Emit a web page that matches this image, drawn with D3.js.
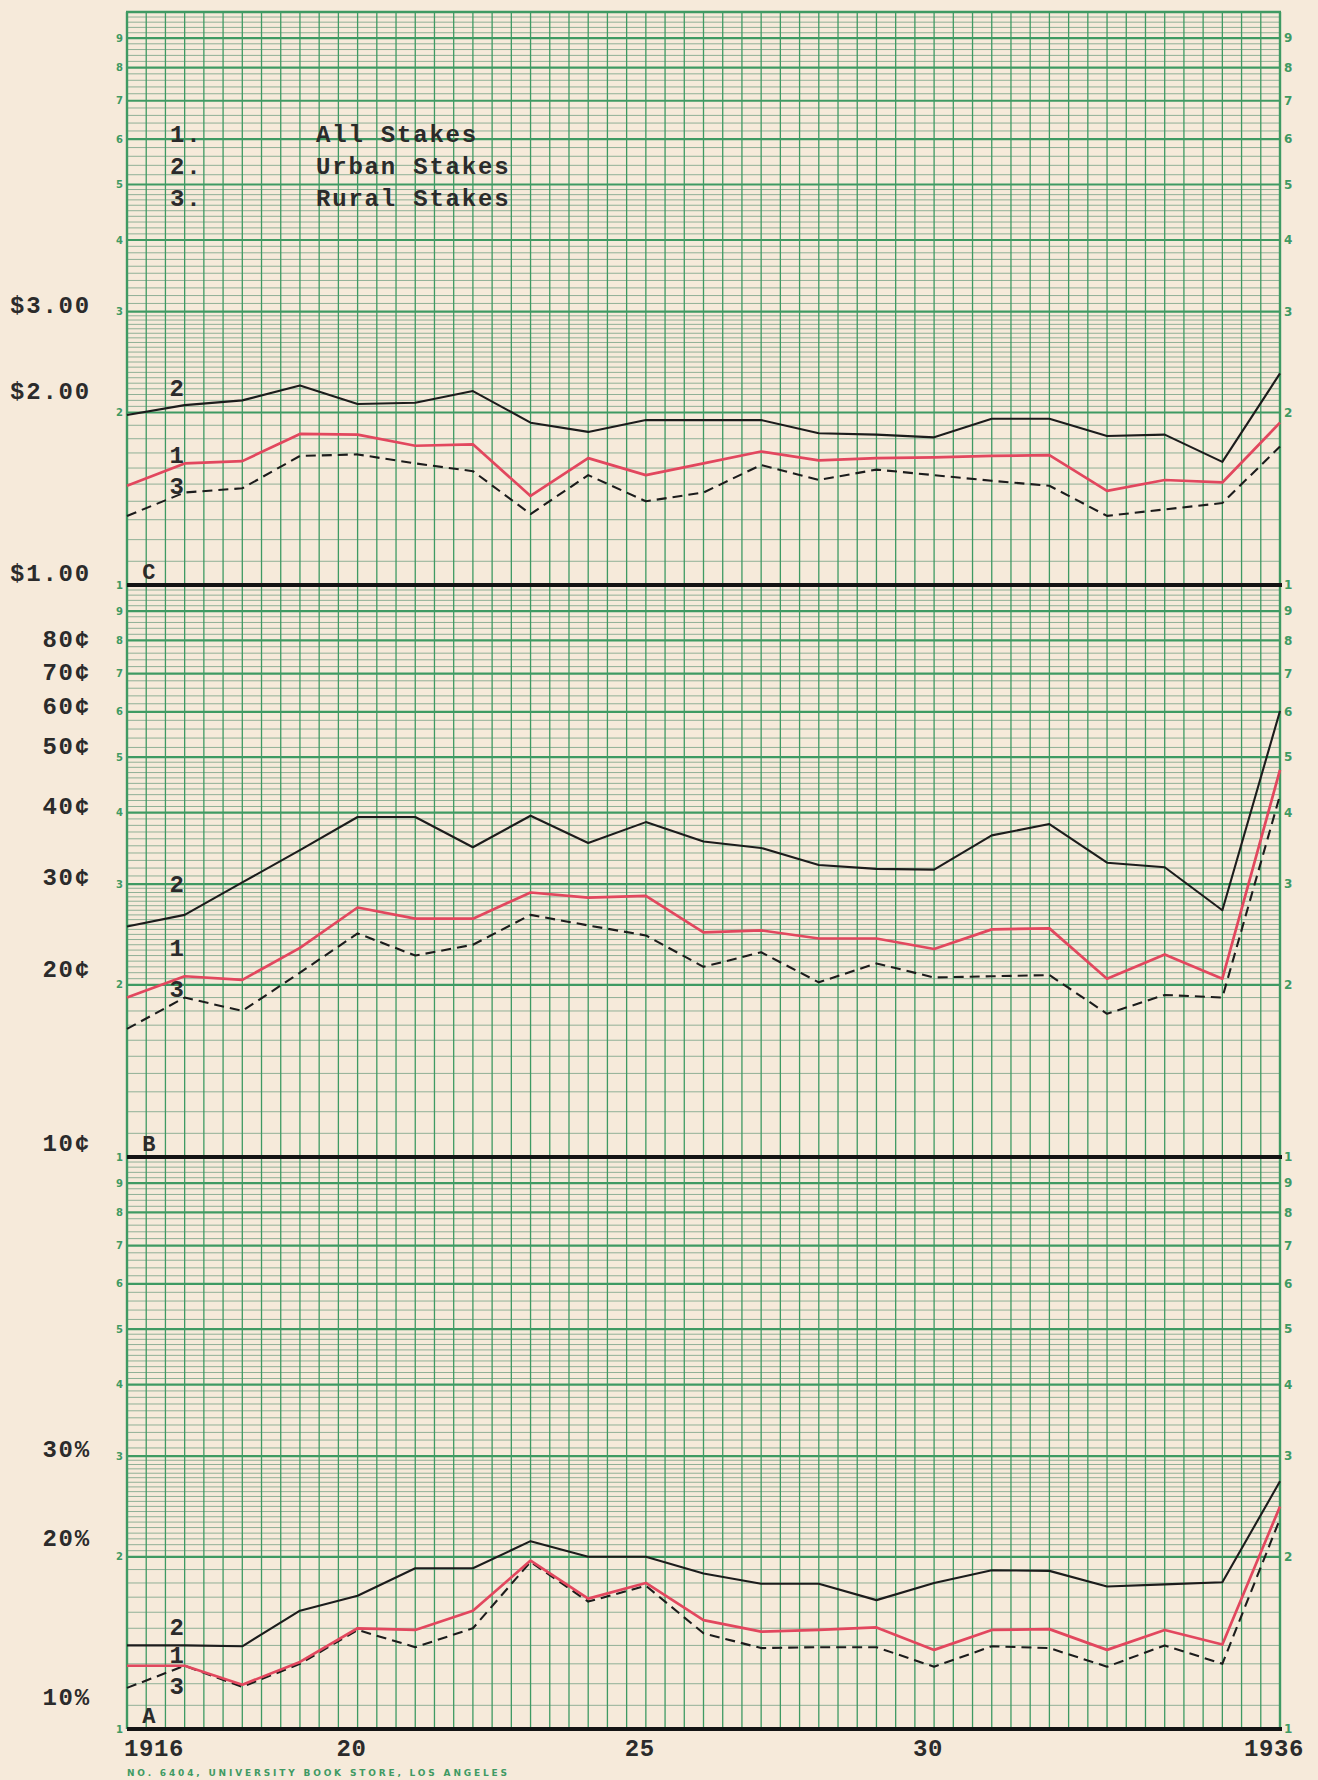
<!DOCTYPE html>
<html><head><meta charset="utf-8">
<script src="https://cdn.jsdelivr.net/npm/d3@7"></script>
<style>
html,body{margin:0;padding:0;background:#f6eada;}
svg{display:block;}
</style></head><body>
<svg id="chart" width="1318" height="1780"></svg>
<script>
// ---------------- DATA ----------------
const years = d3.range(1916, 1937);
const yearTicks = [1916, 1920, 1925, 1930, 1936];
const yearTickLabels = ["1916", "20", "25", "30", "1936"];

const seriesNums = ["1.", "2.", "3."];
const seriesNames = ["All Stakes", "Urban Stakes", "Rural Stakes"];

// Panel C (dollars)
const allC   = [1.49,1.63,1.645,1.835,1.83,1.75,1.76,1.43,1.665,1.555,1.63,1.71,1.65,1.665,1.67,1.68,1.685,1.46,1.525,1.51,1.92];
const urbanC = [1.98,2.06,2.10,2.23,2.07,2.08,2.18,1.92,1.85,1.94,1.94,1.94,1.84,1.83,1.81,1.95,1.95,1.82,1.83,1.64,2.34];
const ruralC = [1.32,1.45,1.475,1.68,1.69,1.63,1.58,1.33,1.555,1.40,1.45,1.62,1.525,1.59,1.555,1.52,1.49,1.32,1.355,1.39,1.745];

// Panel B (cents)
const allB   = [19.0,20.7,20.4,23.2,27.3,26.1,26.1,29.0,28.4,28.6,24.7,24.9,24.1,24.1,23.1,25.0,25.1,20.5,22.6,20.5,47.5];
const urbanB = [25.3,26.5,30.2,34.4,39.3,39.3,34.8,39.5,35.4,38.5,35.6,34.7,32.4,31.9,31.8,36.5,38.2,32.7,32.1,27.0,60.2];
const ruralB = [16.75,19.0,18.0,21.0,24.6,22.5,23.5,26.5,25.4,24.4,21.5,22.8,20.2,21.8,20.6,20.7,20.8,17.8,19.2,19.0,42.9];

// Panel A (percent)
const allA   = [12.9,12.9,11.95,13.1,15.0,14.9,16.1,19.7,16.9,18.0,15.5,14.8,14.9,15.05,13.75,14.9,14.95,13.75,14.9,14.05,24.5];
const urbanA = [14.0,14.0,13.95,16.1,17.1,19.1,19.1,21.3,20.0,20.0,18.7,17.95,17.95,16.8,18.0,18.95,18.9,17.75,17.9,18.05,27.1];
const ruralA = [11.8,12.9,11.85,13.0,14.9,13.9,15.0,19.6,16.7,17.8,14.7,13.85,13.9,13.9,12.85,13.95,13.85,12.85,14.0,13.0,23.3];

// Typed scale labels on the left (text, value where typed)
const labelsC = ["$3.00","$2.00","$1.00"];
const labelsCAt = [3.09, 2.19, 1.05];
const labelsB = ["80¢","70¢","60¢","50¢","40¢","30¢","20¢","10¢"];
const labelsBAt = [80.6, 70.7, 61.6, 52.4, 41.2, 31.0, 21.4, 10.6];
const labelsA = ["30%","20%","10%"];
const labelsAAt = [31.0, 21.6, 11.4];

// Panel letters and series numbers typed near 1917 (value where typed)
const panelLetters = ["C","B","A"];
const panelLetterAt = [1.058, 10.58, 10.56];
const lineNums = ["2","1","3"];
const lineNumsCAt = [2.21, 1.69, 1.494];
const lineNumsBAt = [30.1, 23.3, 19.7];
const lineNumsAAt = [15.1, 13.5, 11.9];

// Printed cycle digits
const cycleDigits = [1,2,3,4,5,6,7,8,9];

// ---------------- LAYOUT ----------------
const svg = d3.select("#chart");
const GREEN = "#3f9a63", MINOR = "#84a98e", PAPER = "#f6eada";
const TYPE = "'Liberation Mono','DejaVu Sans Mono',monospace";
const x = d3.scaleLinear().domain([1916, 1936]).range([127, 1280]);
const yC = d3.scaleLog().domain([1, 10]).range([585, 12]);
const yB = d3.scaleLog().domain([10, 100]).range([1157, 585]);
const yA = d3.scaleLog().domain([10, 100]).range([1729, 1157]);
const panels = [
  {s: yC, base: 1,  all: allC, urban: urbanC, rural: ruralC, labels: labelsC, labelsAt: labelsCAt, nums: lineNumsCAt},
  {s: yB, base: 10, all: allB, urban: urbanB, rural: ruralB, labels: labelsB, labelsAt: labelsBAt, nums: lineNumsBAt},
  {s: yA, base: 10, all: allA, urban: urbanA, rural: ruralA, labels: labelsA, labelsAt: labelsAAt, nums: lineNumsAAt}
];

svg.append("rect").attr("width", 1318).attr("height", 1780).attr("fill", PAPER);

const [X0, X1] = x.range();
const grid = svg.append("g");

// minor subdivisions within one cycle (1..10)
const minorVals = [];
for (let i = 11; i < 20; i++) minorVals.push(i / 10);
for (let i = 41; i < 60; i++) if (i % 20) minorVals.push(i / 20);
for (let i = 31; i < 50; i++) if (i % 10) minorVals.push(i / 10);
for (let i = 52; i < 100; i += 2) if (i % 10) minorVals.push(i / 10);

panels.forEach(p => {
  grid.selectAll(null).data(minorVals).join("line")
    .attr("x1", X0).attr("x2", X1)
    .attr("y1", d => p.s(d * p.base)).attr("y2", d => p.s(d * p.base))
    .attr("stroke", MINOR).attr("stroke-width", 0.9);
});

// vertical rulings: 3 per year
const vTicks = d3.range(0, 61).map(i => 1916 + i / 3);
grid.selectAll(null).data(vTicks).join("line")
  .attr("x1", d => x(d)).attr("x2", d => x(d))
  .attr("y1", yC(10)).attr("y2", yA(10))
  .attr("stroke", GREEN).attr("stroke-width", (d, i) => (i === 0 || i === 60) ? 2.4 : 1.3);

panels.forEach(p => {
  grid.selectAll(null).data([2,3,4,5,6,7,8,9]).join("line")
    .attr("x1", X0).attr("x2", X1)
    .attr("y1", d => p.s(d * p.base)).attr("y2", d => p.s(d * p.base))
    .attr("stroke", GREEN).attr("stroke-width", 2.2);
});
// top border
grid.append("line").attr("x1", X0 - 1).attr("x2", X1 + 1).attr("y1", yC(10)).attr("y2", yC(10))
  .attr("stroke", GREEN).attr("stroke-width", 2.6);
// black cycle lines
[yC(1), yB(10), yA(10)].forEach(yy => {
  grid.append("line").attr("x1", X0).attr("x2", X1 + 2).attr("y1", yy).attr("y2", yy)
    .attr("stroke", "#141414").attr("stroke-width", 3.8);
});

// printed cycle digits (left and right)
const dig = svg.append("g").attr("fill", GREEN).attr("font-family", "'DejaVu Sans',sans-serif")
  .attr("font-weight", "bold").attr("font-size", 10);
panels.forEach(p => {
  dig.selectAll(null).data(cycleDigits).join("text")
    .attr("x", X0 - 4).attr("y", d => p.s(d * p.base)).attr("dy", "0.35em")
    .attr("text-anchor", "end").text(d => d);
  dig.selectAll(null).data(cycleDigits).join("text")
    .attr("x", X1 + 4).attr("y", d => p.s(d * p.base)).attr("dy", "0.35em")
    .attr("text-anchor", "start").attr("font-size", 12).text(d => d);
});

// series lines
const lineGen = s => d3.line().x((d, i) => x(years[i])).y(d => s(d));
panels.forEach(p => {
  const g = svg.append("g").attr("fill", "none").attr("stroke-linejoin", "round");
  g.append("path").attr("d", lineGen(p.s)(p.rural)).attr("stroke", "#1c1c1c")
    .attr("stroke-width", 2.1).attr("stroke-dasharray", "10,6");
  g.append("path").attr("d", lineGen(p.s)(p.urban)).attr("stroke", "#1c1c1c").attr("stroke-width", 2.1);
  g.append("path").attr("d", lineGen(p.s)(p.all)).attr("stroke", "#e2475e").attr("stroke-width", 2.7);
});

// typed text
const typed = svg.append("g").attr("font-family", TYPE).attr("font-weight", "bold")
  .attr("fill", "#2b2b2b").attr("font-size", 24).attr("letter-spacing", 1.8);
panels.forEach((p, k) => {
  typed.selectAll(null).data(p.labels).join("text")
    .attr("x", 91).attr("y", (d, i) => p.s(p.labelsAt[i])).attr("dy", "0.36em")
    .attr("text-anchor", "end").text(d => d);
  typed.append("text").attr("x", x(1916.38)).attr("y", p.s(panelLetterAt[k])).attr("dy", "0.36em")
    .attr("text-anchor", "middle").attr("font-size", 22).attr("letter-spacing", 0).text(panelLetters[k]);
  typed.selectAll(null).data(lineNums).join("text")
    .attr("x", x(1916.86)).attr("y", (d, i) => p.s(p.nums[i])).attr("dy", "0.36em")
    .attr("text-anchor", "middle").attr("letter-spacing", 0).text(d => d);
});
// legend
seriesNums.forEach((n, i) => {
  typed.append("text").attr("x", 170).attr("y", 133 + i * 32).attr("dy", "0.36em").text(n);
  typed.append("text").attr("x", 316).attr("y", 133 + i * 32).attr("dy", "0.36em").text(seriesNames[i]);
});
// year labels
typed.selectAll(null).data(yearTicks).join("text")
  .attr("x", (d, i) => i === 0 ? x(d) - 3 : x(d) - 6)
  .attr("y", 1747).attr("dy", "0.36em")
  .attr("text-anchor", (d, i) => i === 0 ? "start" : "middle")
  .attr("font-size", 24).attr("letter-spacing", 0.6)
  .text((d, i) => yearTickLabels[i]);

// footer
svg.append("text").attr("x", 127).attr("y", 1776)
  .attr("font-family", "'DejaVu Sans',sans-serif").attr("font-weight", "bold")
  .attr("font-size", 9).attr("fill", GREEN)
  .attr("textLength", 380).attr("lengthAdjust", "spacing")
  .text("NO. 6404, UNIVERSITY BOOK STORE, LOS ANGELES");
</script>
</body></html>
